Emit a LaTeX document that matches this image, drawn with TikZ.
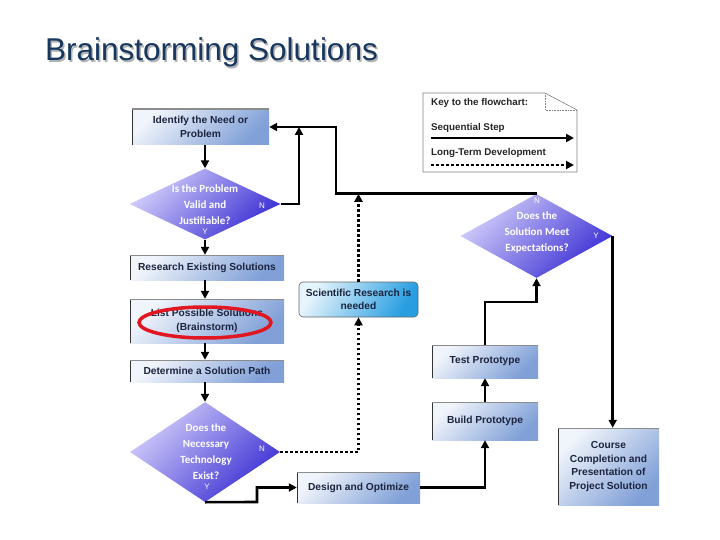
\documentclass[tikz,border=0pt]{standalone}
\usepackage{fontspec}
\setmainfont{Liberation Sans}
\newfontfamily\calib{Carlito}
\usetikzlibrary{arrows.meta,shapes.geometric}
\definecolor{navy}{RGB}{23,55,94}
\definecolor{boxtext}{RGB}{28,36,62}
\definecolor{boxlight}{RGB}{240,244,251}
\definecolor{boxdark}{RGB}{128,160,215}
\definecolor{dialight}{RGB}{210,206,250}
\definecolor{diadark}{RGB}{60,48,212}
\definecolor{scilight}{RGB}{230,244,252}
\definecolor{scidark}{RGB}{40,158,225}
\definecolor{ringred}{RGB}{226,22,32}
\tikzset{
  box/.style={rectangle, inner sep=0pt, align=center,
    font=\fontsize{10.2}{13.5}\selectfont\bfseries, text=boxtext,
    top color=boxlight, bottom color=boxdark, shading angle=45,
    path picture={
      \draw[black!80, line width=2.4pt] (path picture bounding box.north west) -- (path picture bounding box.south west);
      \draw[black!45, line width=1.2pt] (path picture bounding box.north west) -- (path picture bounding box.north east);}},
  scibox/.style={rectangle, rounded corners=4pt, inner sep=0pt, align=center,
    font=\fontsize{10.2}{13.5}\selectfont\bfseries, text=boxtext,
    top color=scilight, bottom color=scidark, shading angle=60, draw=black!60, line width=0.6pt},
  dia/.style={diamond, inner sep=0pt, top color=dialight, bottom color=diadark, shading angle=45},
  diatext/.style={text=white, inner sep=0pt, align=center, font=\calib\bfseries\fontsize{11}{16}\selectfont},
  yn/.style={text=white, inner sep=0pt, font=\fontsize{8}{9}\selectfont},
  keytext/.style={anchor=west, inner sep=0pt, text=black!85, font=\fontsize{9.8}{11}\selectfont\bfseries},
  arr/.style={line width=2.6pt, -{Triangle[length=8pt,width=8pt]}},
  dotarr/.style={line width=2.6pt, dash pattern=on 2.6pt off 2.4pt, -{Triangle[length=8pt,width=8pt]}},
}
\begin{document}
\begin{tikzpicture}[x=1pt,y=-1pt]
\fill[white] (0,0) rectangle (720,540);
\useasboundingbox (0,0) rectangle (720,540);

% title
\node[anchor=base west, inner sep=0pt, font=\fontsize{31.5}{36}\selectfont, text=black!30] (titleshadow) at (46.5,62.5) {Brainstorming Solutions};
\node[anchor=base west, inner sep=0pt, font=\fontsize{31.5}{36}\selectfont, text=navy] (title) at (45,61) {Brainstorming Solutions};

% key
\draw[black!50, line width=0.6pt] (423,93) -- (545,93) -- (577,110) -- (577,172) -- (423,172) -- cycle;
\draw[black!50, line width=0.6pt, densely dotted] (545,93) -- (545,110) -- (577,110);
\node[keytext] (k1) at (431,103) {Key to the flowchart:};
\node[keytext] (k2) at (431,128) {Sequential Step};
\node[keytext] (k3) at (431,153) {Long-Term Development};
\coordinate (ka) at (431,138); \coordinate (kb) at (574,138);
\coordinate (kc) at (431,165); \coordinate (kd) at (574,165);
\draw[arr] (ka) -- (kb);
\draw[dotarr] (kc) -- (kd);

% left column
\node[box, minimum width=137pt, minimum height=36pt] (ident) at (200.5,127) {Identify the Need or\\Problem};
\node[dia, minimum width=151pt, minimum height=71pt] (d1) at (205,204) {};
\node[diatext] (d1t) at (205,205) {Is the Problem\\Valid and\\Justifiable?};
\node[yn] (d1n) at (262,206) {N};
\node[yn] (d1y) at (205,232) {Y};
\node[box, minimum width=154pt, minimum height=25pt] (research) at (207,267.5) {Research Existing Solutions};
\node[box, minimum width=154pt, minimum height=44pt] (list) at (207,321) {List Possible Solutions\\(Brainstorm)};
\node[ellipse, draw=ringred, line width=3.5pt, minimum width=132pt, minimum height=31pt, inner sep=0pt] (ring) at (205,322.5) {};
\node[box, minimum width=154pt, minimum height=22pt] (determine) at (207,371) {Determine a Solution Path};
\node[dia, minimum width=150pt, minimum height=100pt] (d3) at (205,452) {};
\node[diatext] (d3t) at (206,451.5) {Does the\\Necessary\\Technology\\Exist?};
\node[yn] (d3n) at (262,449) {N};
\node[yn] (d3y) at (207,487) {Y};

% middle / right
\node[scibox, minimum width=119pt, minimum height=35pt] (sci) at (358.5,299.5) {Scientific Research is\\needed};
\node[box, minimum width=123pt, minimum height=31pt] (design) at (358.5,487.5) {Design and Optimize};
\node[box, minimum width=106pt, minimum height=38pt] (build) at (485,421) {Build Prototype};
\node[box, minimum width=106pt, minimum height=33pt] (test) at (485,361.5) {Test Prototype};
\node[dia, minimum width=152pt, minimum height=84pt] (d2) at (536.5,236) {};
\node[diatext] (d2t) at (537,233) {Does the\\Solution Meet\\Expectations?};
\node[yn] (d2n) at (537,201) {N};
\node[yn] (d2y) at (596,236) {Y};
\node[box, minimum width=101pt, minimum height=77pt] (course) at (608.5,466.5) {Course\\Completion and\\Presentation of\\Project Solution};

% connectors
\coordinate (c1) at (299,127);
\coordinate (c2) at (336,127);
\coordinate (c3) at (257,502);
\coordinate (c4) at (485,302);
\draw[arr] (ident.south -| d1.north) -- (d1.north);
\draw[arr] (d1.south) -- (d1.south |- research.north);
\draw[arr] (research.south -| d1.south) -- (list.north -| d1.south);
\draw[arr] (list.south -| d1.south) -- (determine.north -| d1.south);
\draw[arr] (determine.south -| d3.north) -- (d3.north);
\draw[arr] (d1.east) -| (c1);
\draw[arr] (d2.north) -| (c2) -- (ident.east);
\draw[dotarr] (d3.east) -| (sci.south);
\draw[dotarr] (sci.north) -- (sci.north |- d2.north);
\draw[arr] (d3.south) -- (c3) |- (design.west);
\draw[arr] (design.east) -| (build.south);
\draw[arr] (build.north) -- (test.south);
\draw[arr] (test.north) -- (c4) -| (d2.south);
\draw[arr] (d2.east) -- (d2.east |- course.north);
\end{tikzpicture}
\end{document}
